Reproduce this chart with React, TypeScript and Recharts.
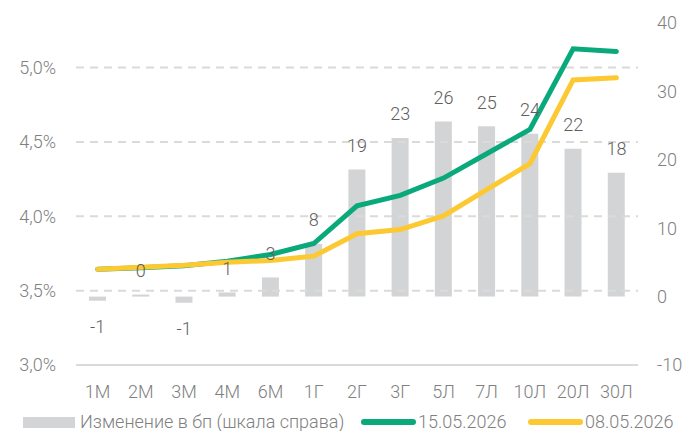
import React from 'react';
import { ComposedChart, Bar, Line, XAxis, YAxis, ReferenceLine, Legend, LabelList } from 'recharts';

const categories = ['1М', '2М', '3М', '4М', '6М', '1Г', '2Г', '3Г', '5Л', '7Л', '10Л', '20Л', '30Л'];
const changeBp = [-0.6, 0.3, -0.9, 0.6, 2.8, 7.7, 18.6, 23.2, 25.6, 24.9, 23.8, 21.6, 18.1];
const curve1505 = [3.644, 3.654, 3.668, 3.698, 3.743, 3.817, 4.07, 4.141, 4.257, 4.421, 4.584, 5.126, 5.109];
const curve0805 = [3.644, 3.658, 3.671, 3.691, 3.703, 3.732, 3.883, 3.911, 4.002, 4.179, 4.354, 4.917, 4.931];
const leftTicks = [3, 3.5, 4, 4.5, 5];
const gridTicks = [3.5, 4, 4.5, 5];
const rightTicks = [-10, 0, 10, 20, 30, 40];

const legendBar = 'Изменение в бп (шкала справа)';
const legendGreen = '15.05.2026';
const legendYellow = '08.05.2026';

const GREEN = '#0aa97b';
const YELLOW = '#fcc932';
const GRAY_BAR = '#d3d4d6';
const GRID = '#dadada';
const TICK = '#808080';
const LABEL = '#5e5e5e';
const FONT = 'Roboto, sans-serif';

const data = categories.map((c, i) => ({
  cat: c,
  bp: changeBp[i],
  g: curve1505[i],
  y: curve0805[i],
}));

const BarLabel = (props: any) => {
  const { x, y, value } = props;
  if (x == null || y == null) return null;
  const cy = value >= 0 ? y - 24 : y + 26;
  return (
    <text x={x} y={cy} dy="0.355em" textAnchor="middle" fill={LABEL} fontSize={18} fontFamily={FONT} fontWeight={300}>
      {String(Math.round(value))}
    </text>
  );
};

const renderLegend = () => (
  <div style={{ position: 'relative', height: 0, fontFamily: FONT, fontWeight: 300, fontSize: 18, color: TICK }}>
    <div style={{ position: 'absolute', left: 23, top: 417, width: 52, height: 11, background: GRAY_BAR }} />
    <div style={{ position: 'absolute', left: 80, top: 411, whiteSpace: 'nowrap', lineHeight: '22px' }}>{legendBar}</div>
    <div style={{ position: 'absolute', left: 361, top: 419, width: 55, height: 6, borderRadius: 3, background: GREEN }} />
    <div style={{ position: 'absolute', left: 418, top: 411, whiteSpace: 'nowrap', lineHeight: '22px' }}>{legendGreen}</div>
    <div style={{ position: 'absolute', left: 528, top: 419, width: 55, height: 6, borderRadius: 3, background: YELLOW }} />
    <div style={{ position: 'absolute', left: 585, top: 411, whiteSpace: 'nowrap', lineHeight: '22px' }}>{legendYellow}</div>
  </div>
);

export default function App() {
  return (
    <div style={{ position: 'absolute', left: 0, top: 0, width: 689, height: 431, background: '#fff' }}>
      <ComposedChart width={689} height={431} data={data} margin={{ top: 23, right: 0, bottom: 36, left: 0 }}>
        <XAxis
          dataKey="cat"
          height={30}
          tickLine={false}
          tickSize={0}
          tickMargin={20}
          axisLine={{ stroke: GRID, strokeWidth: 2 }}
          tick={{ fill: TICK, fontSize: 18, fontFamily: FONT, fontWeight: 300 }}
          interval={0}
        />
        <YAxis
          yAxisId="left"
          orientation="left"
          width={76}
          domain={[3, 5.3]}
          ticks={leftTicks}
          tickFormatter={(v: number) => v.toFixed(1).replace('.', ',') + '%'}
          tickLine={false}
          axisLine={false}
          tickSize={0}
          tickMargin={20}
          allowDataOverflow
          tick={{ fill: TICK, fontSize: 18, fontFamily: FONT, fontWeight: 300 }}
        />
        <YAxis
          yAxisId="right"
          orientation="right"
          width={51}
          domain={[-10, 40]}
          ticks={rightTicks}
          tickLine={false}
          axisLine={false}
          tickSize={0}
          tickMargin={19}
          allowDataOverflow
          tick={{ fill: TICK, fontSize: 18, fontFamily: FONT, fontWeight: 300, textAnchor: 'start' }}
        />
        {gridTicks.map((t) => (
          <ReferenceLine key={t} yAxisId="left" y={t} stroke={GRID} strokeWidth={2} strokeDasharray="8 6" />
        ))}
        <Legend content={renderLegend} wrapperStyle={{ left: 0, top: 0, width: 689, height: 0 }} />
        <Bar yAxisId="right" dataKey="bp" fill={GRAY_BAR} barSize={17} isAnimationActive={false} />
        <Line yAxisId="left" dataKey="g" stroke={GREEN} strokeWidth={5} dot={false} strokeLinecap="round" isAnimationActive={false} />
        <Line yAxisId="left" dataKey="y" stroke={YELLOW} strokeWidth={5} dot={false} strokeLinecap="round" isAnimationActive={false} />
        <Line yAxisId="right" dataKey="bp" stroke="none" dot={false} activeDot={false} legendType="none" isAnimationActive={false}>
          <LabelList dataKey="bp" content={BarLabel} />
        </Line>
      </ComposedChart>
    </div>
  );
}
